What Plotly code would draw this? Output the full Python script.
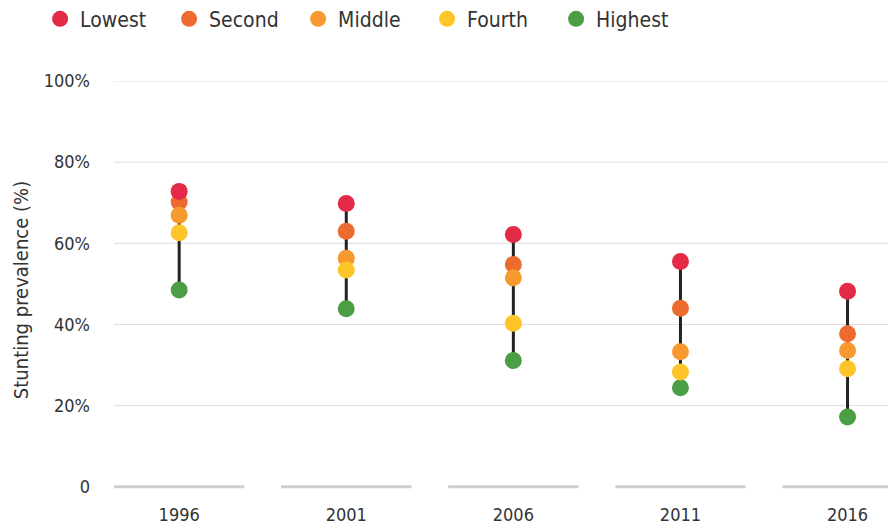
import plotly.graph_objects as go

# stunting prevalence by wealth quintile, per survey year
years = ["1996", "2001", "2006", "2011", "2016"]
lowest = [72.8, 69.8, 62.2, 55.5, 48.2]
second = [70.2, 63.0, 54.8, 44.0, 37.7]
middle = [66.9, 56.3, 51.5, 33.3, 33.6]
fourth = [62.6, 53.4, 40.3, 28.3, 29.1]
highest = [48.5, 43.9, 31.1, 24.4, 17.2]

y_ticks = [0, 20, 40, 60, 80, 100]
y_tick_labels = ["0", "20%", "40%", "60%", "80%", "100%"]

FONT = "DejaVu Sans Condensed, Liberation Sans Narrow, Roboto, sans-serif"
TEXT = "#333333"

groups = [
    ("Highest", highest, "#4b9e44", 5),
    ("Second", second, "#ee6b2f", 2),
    ("Middle", middle, "#f69a30", 3),
    ("Fourth", fourth, "#fdc52a", 4),
    ("Lowest", lowest, "#e52a48", 1),
]

xs = list(range(len(years)))

fig = go.Figure()

# vertical range line for each year
line_x, line_y = [], []
for i in xs:
    line_x += [i, i, None]
    line_y += [highest[i], lowest[i], None]
fig.add_trace(go.Scatter(x=line_x, y=line_y, mode="lines",
                         line=dict(color="#222222", width=3),
                         showlegend=False, hoverinfo="skip"))

for name, vals, color, rank in groups:
    fig.add_trace(go.Scatter(x=xs, y=vals, mode="markers", name=name,
                             legendrank=rank,
                             marker=dict(size=17, color=color, line=dict(width=0))))

shapes = []
for t in y_ticks[1:]:
    shapes.append(dict(type="line", xref="paper", yref="y", x0=0, x1=1, y0=t, y1=t,
                       line=dict(color="#dddddd", width=1), layer="below"))
for i in xs:
    shapes.append(dict(type="line", xref="x", yref="y", x0=i - 0.39, x1=i + 0.39,
                       y0=0, y1=0, line=dict(color="#cfcfcf", width=3), layer="below"))

# the page body adds an 8px margin, so the figure is 8px smaller than the window
fig.update_layout(
    width=888, height=519,
    margin=dict(l=106, r=0, t=73, b=28, autoexpand=False),
    plot_bgcolor="white", paper_bgcolor="white",
    font=dict(family=FONT, color=TEXT, size=21),
    shapes=shapes,
    showlegend=True,
    legend=dict(orientation="h", x=-0.0945, y=1.148, xanchor="left", yanchor="middle",
                font=dict(size=21, color=TEXT), itemwidth=30,
                entrywidth=84, traceorder="normal"),
    xaxis=dict(range=[-0.39, 4.29], tickvals=xs, ticktext=years, automargin=False,
               showgrid=False, zeroline=False, showline=False, ticks="",
               ticklabelstandoff=3, tickfont=dict(size=18)),
    yaxis=dict(range=[-3, 100], tickvals=y_ticks, ticktext=y_tick_labels,
               automargin=False,
               showgrid=False, zeroline=False, showline=False, ticks="",
               ticklabelstandoff=23, tickfont=dict(size=18),
               title=dict(text="Stunting prevalence (%)", standoff=9,
                          font=dict(size=20))),
)

fig.write_html("out.html")
